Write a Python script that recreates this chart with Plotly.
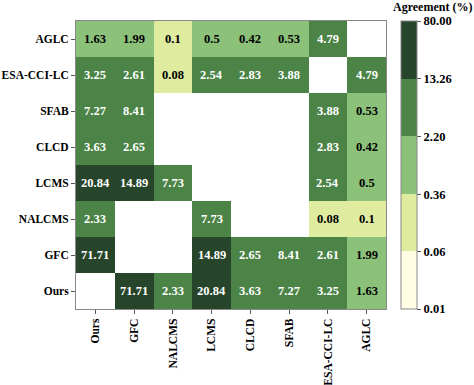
import numpy as np
import plotly.graph_objects as go

rows = ["AGLC", "ESA-CCI-LC", "SFAB", "CLCD", "LCMS", "NALCMS", "GFC", "Ours"]
cols = ["Ours", "GFC", "NALCMS", "LCMS", "CLCD", "SFAB", "ESA-CCI-LC", "AGLC"]

row_aglc   = [1.63, 1.99, 0.1, 0.5, 0.42, 0.53, 4.79, None]
row_esa    = [3.25, 2.61, 0.08, 2.54, 2.83, 3.88, None, 4.79]
row_sfab   = [7.27, 8.41, None, None, None, None, 3.88, 0.53]
row_clcd   = [3.63, 2.65, None, None, None, None, 2.83, 0.42]
row_lcms   = [20.84, 14.89, 7.73, None, None, None, 2.54, 0.5]
row_nalcms = [2.33, None, None, 7.73, None, None, 0.08, 0.1]
row_gfc    = [71.71, None, None, 14.89, 2.65, 8.41, 2.61, 1.99]
row_ours   = [None, 71.71, 2.33, 20.84, 3.63, 7.27, 3.25, 1.63]

cbar_ticks = [0.01, 0.06, 0.36, 2.20, 13.26, 80.00]
bin_colors = ["#fffde3", "#dfeca0", "#8cc17a", "#4b8446", "#27452a"]

values = [row_aglc, row_esa, row_sfab, row_clcd, row_lcms, row_nalcms, row_gfc, row_ours]

zmin = float(np.log10(cbar_ticks[0]))
zmax = float(np.log10(cbar_ticks[-1]))

z = [[(float(np.log10(v)) if v is not None else None) for v in r] for r in values]

cs = []
n = len(bin_colors)
for i, c in enumerate(bin_colors):
    cs.append([i / n, c])
    cs.append([(i + 1) / n, c])

W, H = 474, 385
L, R, T, B = 76, 88, 21, 76
pw = W - L - R
ph = H - T - B

fig = go.Figure()
fig.add_trace(go.Heatmap(
    z=z, x=cols, y=rows,
    colorscale=cs, zmin=zmin, zmax=zmax,
    hoverinfo="skip",
    colorbar=dict(
        tickvals=[float(np.log10(t)) for t in cbar_ticks],
        ticktext=[f"{t:.2f}" for t in cbar_ticks],
        ticks="outside", ticklen=4, tickcolor="#555",
        tickfont=dict(family="Liberation Serif", size=12.5, color="black", weight="bold"),
        outlinecolor="#888", outlinewidth=1,
        thickness=16, lenmode="fraction", len=1.0,
        x=(401 - L) / pw, xanchor="left", xpad=0,
        y=0.5, yanchor="middle", ypad=0,
    ),
))

annotations = []
for i, r in enumerate(rows):
    for j, c in enumerate(cols):
        v = values[i][j]
        if v is None:
            continue
        color = "white" if v >= 2.20 else "black"
        annotations.append(dict(x=c, y=r, text=f"<b>{v:g}</b>", showarrow=False,
                                font=dict(family="Liberation Serif", size=12.5, color=color)))

annotations.append(dict(
    x=(473 - L) / pw, y=1 + (T - 7) / ph, xref="paper", yref="paper",
    xanchor="right", yanchor="middle", showarrow=False, borderpad=0,
    text="<b>Agreement (%)</b>",
    font=dict(family="Liberation Serif", size=12, color="black"),
))

fig.update_layout(
    width=W, height=H,
    margin=dict(l=L, r=R, t=T, b=B, autoexpand=False),
    plot_bgcolor="white", paper_bgcolor="white",
    annotations=annotations,
    font=dict(family="Liberation Serif", color="black"),
)
fig.update_xaxes(
    tickangle=-90, ticks="outside", ticklen=4, tickcolor="#555", automargin=False,
    tickfont=dict(family="Liberation Serif", size=11.5, weight="bold"),
    showline=True, linecolor="#888", linewidth=1, mirror=True, showgrid=False,
)
fig.update_yaxes(
    autorange="reversed", ticks="outside", ticklen=4, tickcolor="#555", automargin=False,
    tickfont=dict(family="Liberation Serif", size=11.5, weight="bold"),
    showline=True, linecolor="#888", linewidth=1, mirror=True, showgrid=False,
)

fig.write_html("out.html", config={"displayModeBar": False},
               post_script="document.body.style.margin='0';")
